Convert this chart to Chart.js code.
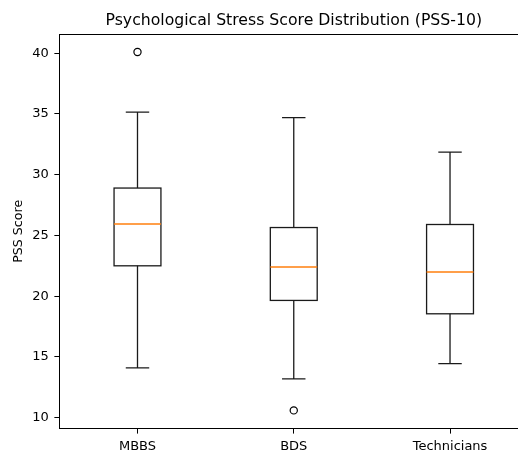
<!DOCTYPE html>
<html>
<head>
<meta charset="utf-8">
<script src="https://cdn.jsdelivr.net/npm/chart.js@4"></script>
<style>
  html, body { margin: 0; padding: 0; background: #fff; overflow: hidden; }
</style>
</head>
<body>
<canvas id="boxChart" width="518" height="454"></canvas>
<script>
// Verdier lest av figuren
const categories = ["MBBS", "BDS", "Technicians"];
const whiskerLow = [14.1, 13.2, 14.45];
const q1 = [22.5, 19.65, 18.55];
const median = [25.95, 22.4, 22.0];
const q3 = [28.9, 25.65, 25.9];
const whiskerHigh = [35.15, 34.7, 31.85];
const outliers = [[40.1], [10.6], []];
const yTicks = [10, 15, 20, 25, 30, 35, 40];

const chartTitle = "Psychological Stress Score Distribution (PSS-10)";
const boxWidth = 0.3;   // i x-enheter
const fontFamily = "'DejaVu Sans', sans-serif";

// punkter for uteliggere
let outlierPoints = [];
outliers.forEach((list, i) => {
  list.forEach(v => outlierPoints.push({ x: i + 1, y: v }));
});

// Tegner boksene via skalaene
const boxPlugin = {
  id: "boxPlugin",
  afterDatasetsDraw(chart) {
    const ctx = chart.ctx;
    const xs = chart.scales.x;
    const ys = chart.scales.y;
    const area = chart.chartArea;

    ctx.save();
    categories.forEach((cat, i) => {
      const cx = xs.getPixelForValue(i + 1);
      const left = xs.getPixelForValue(i + 1 - boxWidth / 2);
      const right = xs.getPixelForValue(i + 1 + boxWidth / 2);
      const capL = xs.getPixelForValue(i + 1 - boxWidth / 4);
      const capR = xs.getPixelForValue(i + 1 + boxWidth / 4);

      ctx.strokeStyle = "#1a1a1a";
      ctx.lineWidth = 1.3;

      // whiskers
      ctx.beginPath();
      ctx.moveTo(cx, ys.getPixelForValue(q3[i]));
      ctx.lineTo(cx, ys.getPixelForValue(whiskerHigh[i]));
      ctx.moveTo(cx, ys.getPixelForValue(q1[i]));
      ctx.lineTo(cx, ys.getPixelForValue(whiskerLow[i]));
      // caps
      ctx.moveTo(capL, ys.getPixelForValue(whiskerHigh[i]));
      ctx.lineTo(capR, ys.getPixelForValue(whiskerHigh[i]));
      ctx.moveTo(capL, ys.getPixelForValue(whiskerLow[i]));
      ctx.lineTo(capR, ys.getPixelForValue(whiskerLow[i]));
      ctx.stroke();

      // boks
      const top = ys.getPixelForValue(q3[i]);
      const bottom = ys.getPixelForValue(q1[i]);
      ctx.strokeRect(left, top, right - left, bottom - top);

      // median
      ctx.strokeStyle = "#ff7f0e";
      ctx.lineWidth = 1.5;
      ctx.beginPath();
      ctx.moveTo(left, ys.getPixelForValue(median[i]));
      ctx.lineTo(right, ys.getPixelForValue(median[i]));
      ctx.stroke();
    });

    // toppramme (høyre kant er beskåret i originalen)
    ctx.strokeStyle = "#000";
    ctx.lineWidth = 1;
    ctx.beginPath();
    ctx.moveTo(area.left, area.top + 0.5);
    ctx.lineTo(area.right, area.top + 0.5);
    ctx.stroke();

    // tittel sentrert over aksene (midten av 0.5–3.5)
    ctx.fillStyle = "#000";
    ctx.font = "15.7px " + fontFamily;
    ctx.textAlign = "center";
    ctx.textBaseline = "alphabetic";
    ctx.fillText(chartTitle, xs.getPixelForValue(2), 24.5);
    ctx.restore();
  }
};

new Chart(document.getElementById("boxChart"), {
  type: "scatter",
  data: {
    datasets: [{
      label: "Uteliggere",
      data: outlierPoints,
      pointStyle: "circle",
      pointRadius: 3.6,
      pointBackgroundColor: "rgba(255,255,255,0)",
      pointBorderColor: "#000",
      pointBorderWidth: 1.2
    }]
  },
  options: {
    responsive: false,
    animation: false,
    layout: { autoPadding: false, padding: { left: 11.4, right: 0, top: 34, bottom: -6.4 } },
    plugins: {
      legend: { display: false },
      tooltip: { enabled: false },
      title: { display: false }
    },
    scales: {
      x: {
        type: "linear",
        min: 0.5,
        max: 3.435,
        afterBuildTicks: axis => {
          axis.ticks = categories.map((c, i) => ({ value: i + 1 }));
        },
        ticks: {
          color: "#000",
          font: { family: fontFamily, size: 13 },
          padding: 5.6,
          maxRotation: 0,
          callback: v => categories[v - 1]
        },
        grid: { drawOnChartArea: false, color: "#000", tickLength: 5 },
        border: { color: "#000", width: 1 }
      },
      y: {
        min: 9.1,
        max: 41.58,
        afterBuildTicks: axis => {
          axis.ticks = yTicks.map(v => ({ value: v }));
        },
        ticks: {
          color: "#000",
          font: { family: fontFamily, size: 13 },
          padding: 5.5
        },
        grid: { drawOnChartArea: false, color: "#000", tickLength: 5 },
        border: { color: "#000", width: 1 },
        title: {
          display: true,
          text: "PSS Score",
          color: "#000",
          font: { family: fontFamily, size: 12.6 },
          padding: { top: 0, bottom: 0.3 }
        }
      }
    }
  },
  plugins: [boxPlugin]
});
</script>
</body>
</html>
